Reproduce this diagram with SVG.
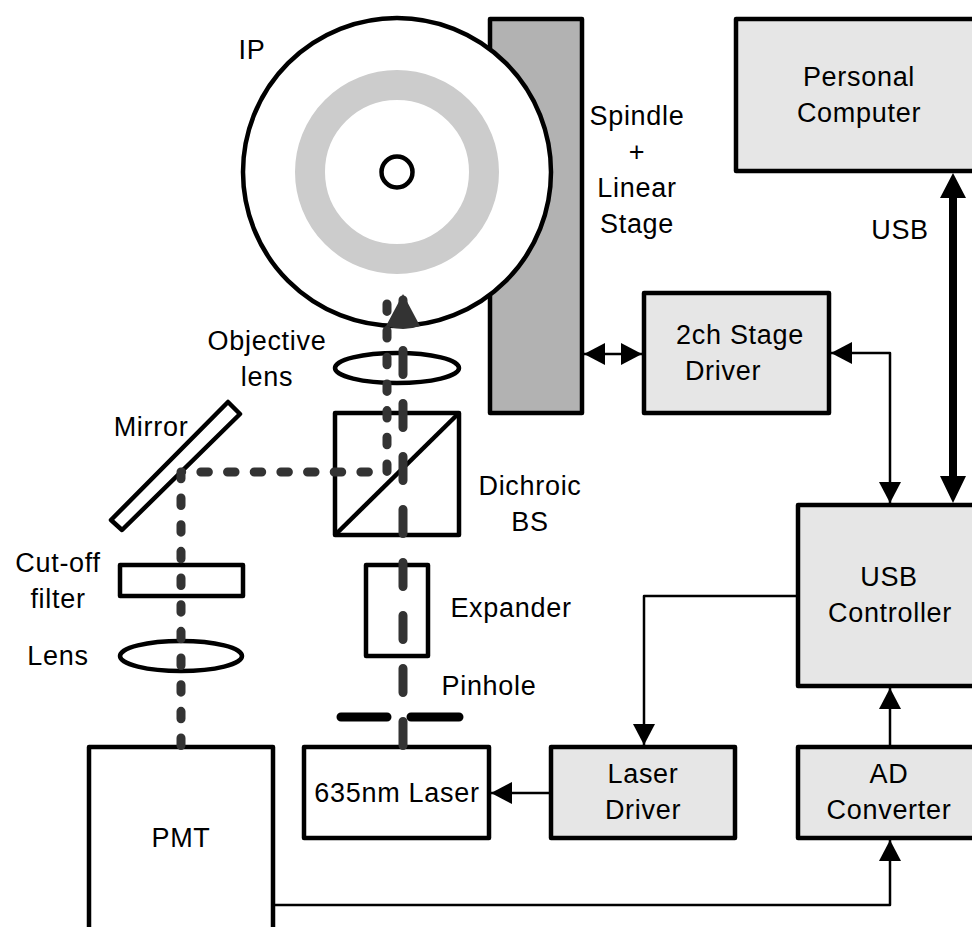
<svg xmlns="http://www.w3.org/2000/svg" width="972" height="927" viewBox="0 0 972 927">
<defs>
<marker id="ah" markerUnits="userSpaceOnUse" markerWidth="22" markerHeight="24" refX="21" refY="11" orient="auto-start-reverse"><path d="M0 0L21 11L0 22Z" fill="#000"/></marker>
</defs>
<style>
text{font-family:"Liberation Sans",Arial,sans-serif;font-size:27px;letter-spacing:.7px;fill:#000;text-anchor:middle}
.b{fill:#e6e6e6;stroke:#000;stroke-width:4.5;stroke-linejoin:round}
.w{fill:#fff;stroke:#000;stroke-width:4.5;stroke-linejoin:round}
.n{fill:none;stroke:#000;stroke-width:4.5;stroke-linejoin:round}
.c{fill:none;stroke:#000;stroke-width:2.5;stroke-linejoin:round}
.d{fill:none;stroke:#333;stroke-width:9;stroke-linecap:round;stroke-linejoin:round}
</style>
<g id="stage"><rect x="490" y="19" width="92" height="394" fill="#b2b2b2" stroke="#000" stroke-width="4.5" stroke-linejoin="round"/><text x="637" y="125">Spindle</text><text x="637" y="161">+</text><text x="637" y="197">Linear</text><text x="637" y="233">Stage</text></g>
<g id="ip"><circle cx="397" cy="172" r="154" fill="#fff" stroke="#000" stroke-width="4.5"/><circle cx="397" cy="172" r="87" fill="none" stroke="#ccc" stroke-width="30"/><circle cx="397" cy="172" r="15.500" fill="#fff" stroke="#000" stroke-width="4.5"/><text x="252" y="59">IP</text></g>
<g id="pc"><rect x="736" y="19" width="250" height="152" class="b"/><text x="859" y="86">Personal</text><text x="859" y="122">Computer</text></g>
<g id="stage-driver"><rect x="644" y="293" width="185" height="120" class="b"/><text x="740" y="344">2ch Stage</text><text x="723" y="380" style="text-anchor:middle">Driver</text></g>
<g id="usb-controller"><rect x="798" y="505" width="190" height="181" class="b"/><text x="889" y="586">USB</text><text x="890" y="622">Controller</text></g>
<g id="laser-driver"><rect x="551" y="747" width="184" height="91" class="b"/><text x="643" y="783">Laser</text><text x="643" y="819">Driver</text></g>
<g id="ad-converter"><rect x="798" y="747" width="190" height="91" class="b"/><text x="889" y="783">AD</text><text x="889" y="819">Converter</text></g>
<g id="pmt"><rect x="89" y="747" width="184" height="200" class="w"/><text x="181" y="847">PMT</text></g>
<g id="laser"><rect x="304" y="747" width="185" height="91" class="w"/><text x="397" y="802">635nm Laser</text></g>
<g id="objective"><ellipse cx="397" cy="368" rx="62" ry="15" class="n"/><text x="267" y="350">Objective</text><text x="267" y="386">lens</text></g>
<g id="dichroic"><rect x="335" y="413" width="124" height="122" class="n"/><path d="M335 535L459 413" class="n"/><text x="530" y="495">Dichroic</text><text x="530" y="531">BS</text></g>
<g id="mirror"><path d="M111 520L228 402L240 414L122 530Z" class="w"/><text x="151" y="436">Mirror</text></g>
<g id="filter"><rect x="120" y="565" width="123" height="31" class="n"/><text x="58" y="572">Cut-off</text><text x="58" y="608">filter</text></g>
<g id="lens"><ellipse cx="181" cy="656" rx="61" ry="15" class="n"/><text x="58" y="665">Lens</text></g>
<g id="expander"><rect x="366" y="565" width="62" height="91" class="n"/><text x="511" y="617">Expander</text></g>
<g id="pinhole"><path d="M341 717H387M411 717H459" fill="none" stroke="#000" stroke-width="9" stroke-linecap="round"/><text x="489" y="695">Pinhole</text></g>
<g id="connectors">
<path class="d" d="M403 745.500V300" stroke-dasharray="24 29"/>
<path class="d" d="M181 745.500V472H387V302" stroke-dasharray="7.500 19.170"/>
<path d="M403 294L420 326Q403 332 386 326Z" fill="#333"/>
<path class="c" d="M584 354H642" stroke-width="3.500" marker-start="url(#ah)" marker-end="url(#ah)"/>
<path class="c" d="M831 353H890V503" marker-start="url(#ah)" marker-end="url(#ah)"/>
<path d="M953 196V480" fill="none" stroke="#000" stroke-width="8"/>
<path d="M953 173L966 198H940ZM953 503L966 476H940Z" fill="#000"/>
<path class="c" d="M796 596H644V745" marker-end="url(#ah)"/>
<path class="c" d="M551 793H491" marker-end="url(#ah)"/>
<path class="c" d="M890 747V688" marker-end="url(#ah)"/>
<path class="c" d="M275 905H890V840" marker-end="url(#ah)"/>
<text x="900" y="239">USB</text>
</g>
</svg>
